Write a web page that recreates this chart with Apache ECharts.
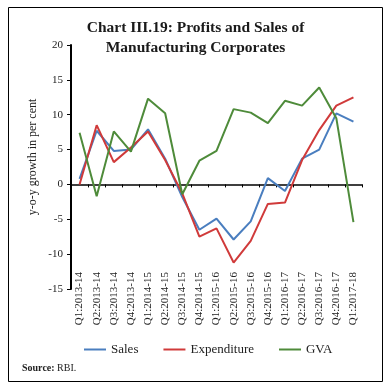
<!DOCTYPE html>
<html>
<head>
<meta charset="utf-8">
<script src="https://cdn.jsdelivr.net/npm/echarts@6/dist/echarts.min.js"></script>
<style>
html,body{margin:0;padding:0;background:#fff;}
#c{width:391px;height:388px;}
</style>
</head>
<body>
<div id="c"></div>
<script>
var categories = ["Q1:2013-14","Q2:2013-14","Q3:2013-14","Q4:2013-14","Q1:2014-15","Q2:2014-15","Q3:2014-15","Q4:2014-15","Q1:2015-16","Q2:2015-16","Q3:2015-16","Q4:2015-16","Q1:2016-17","Q2:2016-17","Q3:2016-17","Q4:2016-17","Q1:2017-18"];
var sales = [0.8, 7.7, 4.8, 5.0, 7.9, 3.7, -1.8, -6.5, -4.9, -7.9, -5.3, 0.9, -0.95, 3.7, 5.0, 10.2, 9.0];
var expenditure = [0.0, 8.5, 3.2, 5.3, 7.6, 3.5, -1.3, -7.5, -6.3, -11.2, -8.1, -2.8, -2.6, 3.5, 7.8, 11.3, 12.5];
var gva = [7.4, -1.7, 7.6, 4.7, 12.3, 10.2, -1.4, 3.4, 4.8, 10.8, 10.3, 8.8, 12.0, 11.3, 13.9, 9.5, -5.4];
var yTicks = {min: -15, max: 20, interval: 5};
var titleText = "Chart III.19: Profits and Sales of\nManufacturing Corporates";
var yName = "y-o-y growth in per cent";

var serif = "'Liberation Serif', 'DejaVu Serif', serif";
var chart = echarts.init(document.getElementById('c'), null, {renderer: 'canvas'});
var option = {
  animation: false,
  backgroundColor: '#fff',
  title: {
    text: titleText,
    left: 'center',
    top: 13,
    textStyle: {fontFamily: serif, fontWeight: 'bold', fontSize: 15.5, lineHeight: 20, color: '#1a1a1a'}
  },
  grid: {left: 71, right: 29, top: 45, bottom: 99, containLabel: false},
  legend: {
    left: 79, top: 338,
    icon: 'rect', itemWidth: 22, itemHeight: 2, itemGap: 25,
    textStyle: {fontFamily: serif, fontSize: 13, color: '#222'},
    data: ['Sales', 'Expenditure', 'GVA']
  },
  xAxis: [
    {
      type: 'category', data: categories, boundaryGap: true,
      axisLine: {onZero: true, lineStyle: {color: '#000', width: 1.5}},
      axisTick: {show: true, interval: 0, length: 3, lineStyle: {color: '#000'}},
      axisLabel: {show: false},
      splitLine: {show: false}
    },
    {
      type: 'category', data: categories, boundaryGap: true, position: 'bottom', offset: -17,
      axisLine: {show: false}, axisTick: {show: false},
      axisLabel: {show: true, interval: 0, rotate: 90, margin: 0, fontFamily: serif, fontSize: 11, color: '#222'},
      splitLine: {show: false}
    }
  ],
  yAxis: {
    type: 'value', min: yTicks.min, max: yTicks.max, interval: yTicks.interval,
    axisLine: {show: true, onZero: false, lineStyle: {color: '#000', width: 2}},
    axisTick: {show: true, length: 4, lineStyle: {color: '#000'}},
    axisLabel: {margin: 8, fontFamily: serif, fontSize: 11, color: '#222'},
    splitLine: {show: false}
  },
  graphic: [
    {type: 'rect', shape: {x: 8.5, y: 7.5, width: 374, height: 374}, style: {fill: 'none', stroke: '#000', lineWidth: 1}, silent: true},
    {type: 'text', x: 33, y: 157, rotation: Math.PI / 2,
     style: {text: yName, font: "12px " + serif, fill: '#222', textAlign: 'center', textVerticalAlign: 'middle'}},
    {type: 'text', x: 22, y: 368,
     style: {text: '{b|Source:} RBI.', textVerticalAlign: 'middle', font: "10px " + serif, fill: '#222',
       rich: {b: {fontWeight: 'bold', fontFamily: serif, fontSize: 10, fill: '#222'}}}}
  ],
  series: [
    {name: 'Sales', type: 'line', data: sales, symbol: 'none', lineStyle: {color: '#4A7EBF', width: 2}, itemStyle: {color: '#4A7EBF'}},
    {name: 'Expenditure', type: 'line', data: expenditure, symbol: 'none', lineStyle: {color: '#D03A3A', width: 2}, itemStyle: {color: '#D03A3A'}},
    {name: 'GVA', type: 'line', data: gva, symbol: 'none', lineStyle: {color: '#4E8B3A', width: 2}, itemStyle: {color: '#4E8B3A'}}
  ]
};
chart.setOption(option);
</script>
</body>
</html>
